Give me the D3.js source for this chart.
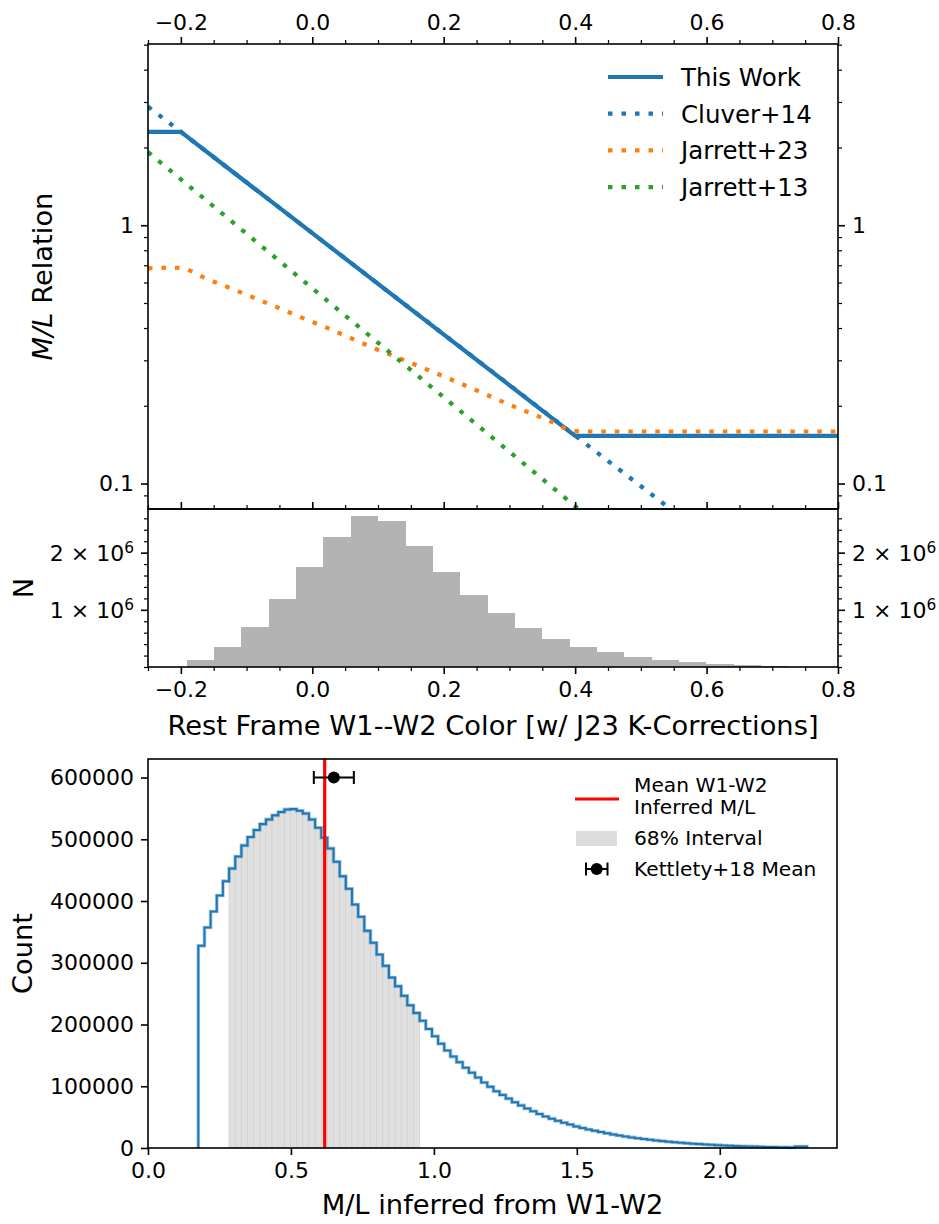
<!DOCTYPE html>
<html>
<head>
<meta charset="utf-8">
<script src="https://cdn.jsdelivr.net/npm/d3@7"></script>
<style>
  body { margin: 0; background: #fff; }
  svg { display: block; }
</style>
</head>
<body>
<svg id="fig" width="939" height="1224"></svg>
<script>
// ---------------- data ----------------
// M/L relations versus rest-frame W1-W2 colour (log-scaled M/L)
const thisWorkColor = [-0.25, -0.2, 0.4, 0.8];
const thisWorkML    = [2.30, 2.30, 0.153, 0.153];
const cluverColor   = [-0.25, 0.6];
const cluverML      = [2.88, 0.0622];
const jarrett23Color = [-0.25, -0.22, -0.2, -0.186, -0.167, -0.13, -0.092, -0.055, -0.018, 0.02, 0.057,
                        0.094, 0.132, 0.169, 0.206, 0.244, 0.279, 0.317, 0.356, 0.393, 0.41, 0.8];
const jarrett23ML    = [0.680, 0.685, 0.683, 0.667, 0.631, 0.578, 0.528, 0.483, 0.441, 0.403, 0.367,
                        0.334, 0.306, 0.280, 0.256, 0.233, 0.213, 0.194, 0.177, 0.161, 0.159, 0.159];
const jarrett13Color = [-0.25, 0.45];
const jarrett13ML    = [1.92, 0.0641];
const relationNames  = ["This Work", "Cluver+14", "Jarrett+23", "Jarrett+13"];

// colour histogram (N per bin)
const colorRange  = [-0.191, 0.724];
const colorCounts = [0.122e6, 0.349e6, 0.703e6, 1.197e6, 1.756e6, 2.279e6, 2.646e6, 2.553e6, 2.117e6,
                     1.663e6, 1.267e6, 0.942e6, 0.686e6, 0.494e6, 0.354e6, 0.255e6, 0.175e6, 0.122e6,
                     0.081e6, 0.058e6, 0.035e6, 0.017e6];

// inferred M/L histogram
const mlRange  = [0.176, 2.305];
const mlCounts = [327400, 357200, 383100, 409000, 432200, 452800, 472200, 490100, 503600, 514900,
                  524600, 532200, 538700, 544100, 548400, 548900, 546200, 541900, 532200, 518700,
                  502500, 485200, 463600, 440300, 419800, 394400, 374400, 351700, 332300, 313400,
                  295000, 276100, 262100, 246400, 231300, 218800, 205900, 192900, 181000, 169000,
                  158000, 148000, 139000, 130000, 122000, 114000, 106000, 99000, 92000, 86000,
                  80000, 74000, 69000, 64000, 59500, 55000, 51000, 47500, 44000, 41000,
                  38000, 35000, 32500, 30000, 28000, 26000, 24000, 22000, 20300, 18700,
                  17200, 15800, 14500, 13300, 12200, 11200, 10200, 9300, 8500, 7700,
                  7000, 6300, 5700, 5100, 4600, 4100, 3700, 3300, 2900, 2600,
                  2300, 2000, 1700, 1500, 1300, 1100, 900, 2500, 2500];
const interval68 = [0.2835, 0.950];
const meanML     = 0.618;
const kettlety   = { x: 0.65, xerr: 0.07, y: 600000 };
const bottomLegend = ["Mean W1-W2", "Inferred M/L", "68% Interval", "Kettlety+18 Mean"];

// tick values
const colorTicksMajor = [-0.2, 0, 0.2, 0.4, 0.6, 0.8];
const colorTicksMinor = [-0.25, -0.15, -0.1, -0.05, 0.05, 0.1, 0.15, 0.25, 0.3, 0.35, 0.45, 0.5, 0.55, 0.65, 0.7, 0.75];
const mlTicksMajor = [0.1, 1];
const mlTicksMinor = [0.09, 0.2, 0.3, 0.4, 0.5, 0.6, 0.7, 0.8, 0.9, 2, 3, 4, 5];
const nTicksMajor  = [1e6, 2e6];
const nTickLabels  = ["1", "2"];
const nTicksMinor  = [0, 0.2e6, 0.4e6, 0.6e6, 0.8e6, 1.2e6, 1.4e6, 1.6e6, 1.8e6, 2.2e6, 2.4e6, 2.6e6];
const inferredTicks = [0, 0.5, 1.0, 1.5, 2.0];
const countTicks    = [0, 100000, 200000, 300000, 400000, 500000, 600000];

// ---------------- drawing ----------------
const FONT = "'DejaVu Sans', 'Liberation Sans', sans-serif";
const C_BLUE = "#1f77b4", C_ORANGE = "#ff7f0e", C_GREEN = "#2ca02c";
const TICK_FS = 22, LABEL_FS = 27.3;
const svg = d3.select("#fig");

const L = 148, R = 838;
const pTop = { y0: 44, y1: 509 };
const pMid = { y0: 509, y1: 667 };
const pBot = { x1: 837, y0: 759, y1: 1148 };

const xColor = d3.scaleLinear().domain([-0.25, 0.8]).range([L, R]);
const yML    = d3.scaleLog().domain([0.0797, 5.03]).range([pTop.y1, pTop.y0]);
const yN     = d3.scaleLinear().domain([0, 2.763e6]).range([pMid.y1, pMid.y0]);
const xInf   = d3.scaleLinear().domain([0, 2.41]).range([L, pBot.x1]);
const yCount = d3.scaleLinear().domain([0, 630000]).range([pBot.y1, pBot.y0]);

function axis(gen, scale, values, size, fmt, tx, ty, width) {
  const a = gen(scale).tickValues(values).tickSize(size).tickSizeOuter(0).tickPadding(7)
    .tickFormat(fmt || (() => ""));
  const g = svg.append("g").attr("transform", `translate(${tx},${ty})`).call(a);
  g.select(".domain").remove();
  g.selectAll("line").attr("stroke", "#000").attr("stroke-width", width);
  g.selectAll("text").attr("font-size", TICK_FS).attr("font-family", FONT).attr("fill", "#000");
  return g;
}
const fmt1 = d3.format(".1f");

// ---------- top panel: M/L relations ----------
svg.append("clipPath").attr("id", "clipTop").append("rect")
  .attr("x", L).attr("y", pTop.y0).attr("width", R - L).attr("height", pTop.y1 - pTop.y0);

const relLine = d3.line().x(d => xColor(d[0])).y(d => yML(d[1]));
const relSmooth = d3.line().x(d => xColor(d[0])).y(d => yML(d[1])).curve(d3.curveMonotoneX);
const zip = (a, b) => a.map((v, i) => [v, b[i]]);
const gRel = svg.append("g").attr("clip-path", "url(#clipTop)");
const dotted = "4.5 9";
const relations = [
  { pts: zip(thisWorkColor, thisWorkML), color: C_BLUE, dash: null, gen: relLine },
  { pts: zip(cluverColor, cluverML), color: C_BLUE, dash: dotted, gen: relLine },
  { pts: zip(jarrett23Color, jarrett23ML), color: C_ORANGE, dash: dotted, gen: relSmooth },
  { pts: zip(jarrett13Color, jarrett13ML), color: C_GREEN, dash: dotted, gen: relLine }
];
relations.forEach(r => {
  gRel.append("path").attr("d", r.gen(r.pts)).attr("fill", "none")
    .attr("stroke", r.color).attr("stroke-width", 4.2)
    .attr("stroke-dasharray", r.dash).attr("stroke-linecap", "butt");
});

// legend
const legTop = svg.append("g");
relations.forEach((r, i) => {
  const y = 77 + i * 36.7;
  legTop.append("line").attr("x1", 608).attr("x2", 663).attr("y1", y).attr("y2", y)
    .attr("stroke", r.color).attr("stroke-width", 4.2).attr("stroke-dasharray", r.dash);
  legTop.append("text").attr("x", 681).attr("y", y).attr("dy", "0.36em")
    .attr("font-family", FONT).attr("font-size", 24.5).text(relationNames[i]);
});

// axes of top panel
axis(d3.axisTop, xColor, colorTicksMajor, 7, fmt1, 0, pTop.y0, 1.6);
axis(d3.axisTop, xColor, colorTicksMinor, 4, null, 0, pTop.y0, 1.2);
axis(d3.axisLeft, yML, mlTicksMajor, 7, d3.format("~g"), L, 0, 1.6);
axis(d3.axisLeft, yML, mlTicksMinor, 4, null, L, 0, 1.2);
axis(d3.axisRight, yML, mlTicksMajor, 7, d3.format("~g"), R, 0, 1.6);
axis(d3.axisRight, yML, mlTicksMinor, 4, null, R, 0, 1.2);
svg.append("rect").attr("x", L).attr("y", pTop.y0).attr("width", R - L).attr("height", pTop.y1 - pTop.y0)
  .attr("fill", "none").attr("stroke", "#000").attr("stroke-width", 1.6);

const yLab = svg.append("text").attr("transform", `translate(52,${(pTop.y0 + pTop.y1) / 2}) rotate(-90)`)
  .attr("text-anchor", "middle").attr("font-family", FONT).attr("font-size", LABEL_FS);
yLab.append("tspan").attr("font-style", "italic").text("M/L");
yLab.append("tspan").text(" Relation");

// ---------- middle panel: colour histogram ----------
const cw = (colorRange[1] - colorRange[0]) / colorCounts.length;
svg.append("g").selectAll("rect").data(colorCounts).join("rect")
  .attr("x", (d, i) => xColor(colorRange[0] + i * cw))
  .attr("width", (d, i) => xColor(colorRange[0] + (i + 1) * cw) - xColor(colorRange[0] + i * cw) + 0.3)
  .attr("y", d => yN(d)).attr("height", d => yN(0) - yN(d))
  .attr("fill", "#b3b3b3").attr("shape-rendering", "crispEdges");

axis(d3.axisTop, xColor, colorTicksMajor, 7, null, 0, pMid.y0, 1.6);
axis(d3.axisTop, xColor, colorTicksMinor, 4, null, 0, pMid.y0, 1.2);
axis(d3.axisBottom, xColor, colorTicksMajor, 7, fmt1, 0, pMid.y1, 1.6);
axis(d3.axisBottom, xColor, colorTicksMinor, 4, null, 0, pMid.y1, 1.2);
[[d3.axisLeft, L], [d3.axisRight, R]].forEach(([gen, xpos]) => {
  const gMaj = axis(gen, yN, nTicksMajor, 7, null, xpos, 0, 1.6);
  axis(gen, yN, nTicksMinor, 4, null, xpos, 0, 1.2);
  const left = gen === d3.axisLeft;
  gMaj.selectAll(".tick").each(function (d, i) {
    const t = d3.select(this).append("text")
      .attr("x", left ? -14 : 14).attr("dy", "0.36em")
      .attr("text-anchor", left ? "end" : "start")
      .attr("font-family", FONT).attr("font-size", TICK_FS).attr("fill", "#000");
    t.append("tspan").text(nTickLabels[i] + " \u00d7 10");
    t.append("tspan").attr("font-size", TICK_FS * 0.7).attr("dy", "-0.55em").text("6");
  });
});
svg.append("rect").attr("x", L).attr("y", pMid.y0).attr("width", R - L).attr("height", pMid.y1 - pMid.y0)
  .attr("fill", "none").attr("stroke", "#000").attr("stroke-width", 1.6);

svg.append("text").attr("x", (L + R) / 2).attr("y", 735).attr("text-anchor", "middle")
  .attr("font-family", FONT).attr("font-size", LABEL_FS)
  .text("Rest Frame W1--W2 Color [w/ J23 K-Corrections]");
svg.append("text").attr("transform", `translate(33,${(pMid.y0 + pMid.y1) / 2}) rotate(-90)`)
  .attr("text-anchor", "middle").attr("font-family", FONT).attr("font-size", LABEL_FS).text("N");

// ---------- bottom panel: inferred M/L ----------
const mw = (mlRange[1] - mlRange[0]) / mlCounts.length;
const edge = i => mlRange[0] + i * mw;
const bins = mlCounts.map((c, i) => ({ x0: edge(i), x1: edge(i + 1), c }));
const inInterval = bins.filter(b => (b.x0 + b.x1) / 2 >= interval68[0] && (b.x0 + b.x1) / 2 <= interval68[1]);

const gBot = svg.append("g");
gBot.selectAll("rect.iv").data(inInterval).join("rect").attr("class", "iv")
  .attr("x", b => xInf(b.x0)).attr("width", b => xInf(b.x1) - xInf(b.x0))
  .attr("y", b => yCount(b.c)).attr("height", b => yCount(0) - yCount(b.c))
  .attr("fill", "#e0e0e0").attr("stroke", "#d2d2d2").attr("stroke-width", 0.8);

const stepPts = [[edge(0), 0]].concat(bins.map(b => [b.x0, b.c]),
  [[edge(mlCounts.length), mlCounts[mlCounts.length - 1]], [edge(mlCounts.length), 0]]);
const step = d3.line().x(d => xInf(d[0])).y(d => yCount(d[1])).curve(d3.curveStepAfter);
gBot.append("path").attr("d", step(stepPts)).attr("fill", "none")
  .attr("stroke", C_BLUE).attr("stroke-opacity", 0.4).attr("stroke-width", 3.6);
gBot.append("path").attr("d", step(stepPts)).attr("fill", "none")
  .attr("stroke", C_BLUE).attr("stroke-width", 2);

gBot.append("line").attr("x1", xInf(meanML)).attr("x2", xInf(meanML))
  .attr("y1", pBot.y0).attr("y2", pBot.y1).attr("stroke", "#ff0000").attr("stroke-width", 3.2);

const ky = yCount(kettlety.y);
const gk = gBot.append("g");
gk.append("line").attr("x1", xInf(kettlety.x - kettlety.xerr)).attr("x2", xInf(kettlety.x + kettlety.xerr))
  .attr("y1", ky).attr("y2", ky).attr("stroke", "#000").attr("stroke-width", 2);
[kettlety.x - kettlety.xerr, kettlety.x + kettlety.xerr].forEach(v => {
  gk.append("line").attr("x1", xInf(v)).attr("x2", xInf(v)).attr("y1", ky - 6.5).attr("y2", ky + 6.5)
    .attr("stroke", "#000").attr("stroke-width", 2);
});
gk.append("circle").attr("cx", xInf(kettlety.x)).attr("cy", ky).attr("r", 6).attr("fill", "#000");

// legend
const legB = svg.append("g").attr("font-family", FONT).attr("font-size", 20.2);
legB.append("line").attr("x1", 575).attr("x2", 619).attr("y1", 799).attr("y2", 799)
  .attr("stroke", "#ff0000").attr("stroke-width", 3.2);
legB.append("text").attr("x", 634).attr("y", 785).attr("dy", "0.36em").text(bottomLegend[0]);
legB.append("text").attr("x", 634).attr("y", 807).attr("dy", "0.36em").text(bottomLegend[1]);
legB.append("rect").attr("x", 576).attr("y", 831).attr("width", 41).attr("height", 15).attr("fill", "#dddddd");
legB.append("text").attr("x", 634).attr("y", 838).attr("dy", "0.36em").text(bottomLegend[2]);
legB.append("line").attr("x1", 586).attr("x2", 607.5).attr("y1", 869).attr("y2", 869).attr("stroke", "#000").attr("stroke-width", 2);
[586, 607.5].forEach(x => legB.append("line").attr("x1", x).attr("x2", x).attr("y1", 862.5).attr("y2", 875.5)
  .attr("stroke", "#000").attr("stroke-width", 2));
legB.append("circle").attr("cx", 596.7).attr("cy", 869).attr("r", 6).attr("fill", "#000");
legB.append("text").attr("x", 634).attr("y", 869).attr("dy", "0.36em").text(bottomLegend[3]);

axis(d3.axisBottom, xInf, inferredTicks, 7, fmt1, 0, pBot.y1, 1.6);
axis(d3.axisLeft, yCount, countTicks, 7, d3.format("d"), L, 0, 1.6);
svg.append("rect").attr("x", L).attr("y", pBot.y0).attr("width", pBot.x1 - L).attr("height", pBot.y1 - pBot.y0)
  .attr("fill", "none").attr("stroke", "#000").attr("stroke-width", 1.6);

svg.append("text").attr("x", (L + pBot.x1) / 2).attr("y", 1214).attr("text-anchor", "middle")
  .attr("font-family", FONT).attr("font-size", LABEL_FS).text("M/L inferred from W1-W2");
svg.append("text").attr("transform", `translate(32,${(pBot.y0 + pBot.y1) / 2}) rotate(-90)`)
  .attr("text-anchor", "middle").attr("font-family", FONT).attr("font-size", LABEL_FS).text("Count");
</script>
</body>
</html>
